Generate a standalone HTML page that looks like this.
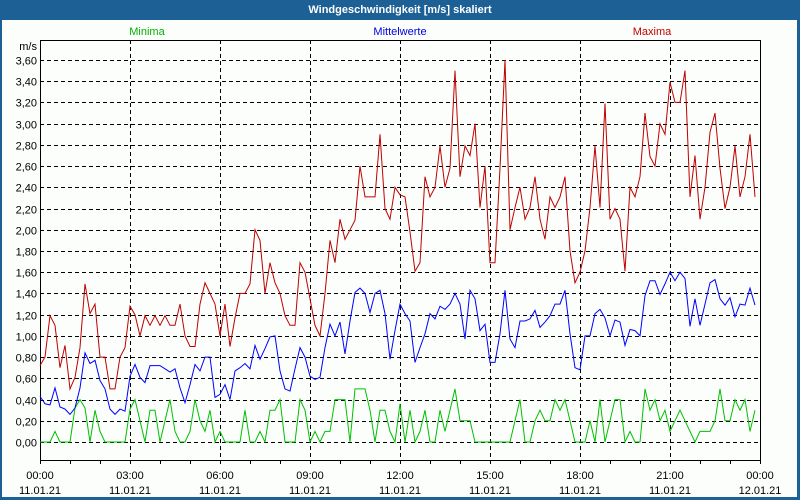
<!DOCTYPE html>
<html><head><meta charset="utf-8">
<style>
html,body{margin:0;padding:0;}
body{width:800px;height:500px;overflow:hidden;background:#1c6096;font-family:"Liberation Sans",sans-serif;}
#win{position:absolute;left:2px;top:20px;width:795px;height:477px;background:#fbfefb;}
#title{position:absolute;left:0;top:0;width:800px;height:20px;line-height:20px;text-align:center;color:#fff;font-weight:bold;font-size:11px;}
svg{position:absolute;left:0;top:0;}
</style></head>
<body>
<div id="title">Windgeschwindigkeit [m/s] skaliert</div>
<div id="win"></div>
<svg id="chart" width="800" height="500"></svg>
<script>
const yTicks=[0,0.2,0.4,0.6,0.8,1.0,1.2,1.4,1.6,1.8,2.0,2.2,2.4,2.6,2.8,3.0,3.2,3.4,3.6];
const xTimeLabels=["00:00","03:00","06:00","09:00","12:00","15:00","18:00","21:00","00:00"];
const xDateLabels=["11.01.21","11.01.21","11.01.21","11.01.21","11.01.21","11.01.21","11.01.21","11.01.21","12.01.21"];
const maxima=[0.72,0.8,1.19,1.1,0.7,0.91,0.5,0.61,0.89,1.49,1.21,1.3,0.8,0.8,0.5,0.5,0.8,0.89,1.28,1.2,1.0,1.19,1.1,1.19,1.1,1.19,1.1,1.1,1.3,1.0,0.9,0.9,1.3,1.5,1.4,1.3,1.0,1.3,0.9,1.17,1.4,1.4,1.49,2.0,1.9,1.4,1.69,1.5,1.4,1.19,1.1,1.1,1.69,1.6,1.35,1.1,1.0,1.4,1.9,1.69,2.1,1.91,2.0,2.09,2.6,2.31,2.31,2.31,2.9,2.2,2.1,2.4,2.33,2.31,1.98,1.61,1.69,2.5,2.31,2.4,2.79,2.4,2.58,3.5,2.5,2.79,2.7,3.0,2.21,2.6,1.69,1.69,2.58,3.6,2.0,2.21,2.4,2.1,2.21,2.5,2.1,1.91,2.31,2.21,2.31,2.5,1.8,1.5,1.6,1.8,2.21,2.79,2.21,3.19,2.1,2.2,2.1,1.61,2.4,2.31,2.5,3.1,2.69,2.6,3.0,2.9,3.39,3.2,3.2,3.5,2.31,2.7,2.1,2.4,2.92,3.1,2.58,2.2,2.4,2.79,2.31,2.5,2.9,2.31];
const mittel=[0.43,0.36,0.35,0.51,0.33,0.31,0.26,0.32,0.51,0.84,0.74,0.77,0.58,0.5,0.31,0.26,0.31,0.29,0.62,0.73,0.61,0.56,0.72,0.72,0.72,0.69,0.66,0.69,0.51,0.37,0.54,0.73,0.67,0.8,0.8,0.42,0.45,0.54,0.4,0.67,0.7,0.74,0.69,0.91,0.78,0.88,0.99,1.0,0.67,0.5,0.48,0.69,0.89,0.8,0.62,0.59,0.61,0.89,1.11,1.0,1.13,0.83,1.14,1.41,1.45,1.4,1.22,1.4,1.43,1.21,0.78,1.05,1.3,1.21,1.14,0.75,0.89,1.02,1.21,1.16,1.28,1.25,1.3,1.4,1.3,0.97,1.43,1.35,1.05,1.11,0.75,0.75,1.02,1.43,0.97,0.89,1.14,1.14,1.16,1.24,1.08,1.13,1.19,1.3,1.3,1.43,1.02,0.7,0.68,1.0,1.0,1.21,1.25,1.17,1.0,1.15,1.13,0.91,1.06,1.05,1.0,1.38,1.52,1.52,1.39,1.49,1.6,1.52,1.6,1.54,1.09,1.35,1.1,1.3,1.5,1.53,1.35,1.29,1.36,1.18,1.3,1.29,1.45,1.29];
const minima=[0,0,0,0.1,0,0,0,0.32,0.4,0.32,0,0.3,0.1,0,0,0,0,0,0.31,0.4,0.2,0,0.3,0.3,0,0.2,0.4,0.1,0,0,0.1,0.4,0.2,0.1,0.3,0,0.1,0,0,0,0,0.3,0,0,0.1,0,0.3,0.3,0.4,0,0,0,0.4,0.3,0,0.1,0,0.1,0.1,0.4,0.4,0.4,0,0.5,0.5,0.5,0.3,0,0.3,0.3,0.1,0,0.36,0,0.3,0,0.1,0.3,0,0,0.3,0.1,0.3,0.5,0.2,0.2,0.2,0,0,0,0,0,0,0,0,0.2,0.4,0,0,0.2,0.3,0.2,0.2,0.4,0.3,0.4,0.2,0,0,0,0.2,0,0.4,0,0.2,0.4,0.4,0,0.1,0,0,0.5,0.3,0.4,0.2,0.3,0.1,0.2,0.3,0.2,0.1,0,0.1,0.1,0.1,0.2,0.5,0.2,0.2,0.4,0.3,0.4,0.1,0.3];

const NS="http://www.w3.org/2000/svg";
const svg=document.getElementById('chart');
const L=40,R=760,T=40,B=460;
const yScale=v=>442-v*(382/3.6);
const xScale=i=>L+i*5; // 10-minute steps, 5px each
const xHour=h=>L+h*30;
function mk(tag,attrs,parent){const e=document.createElementNS(NS,tag);for(const k in attrs)e.setAttribute(k,attrs[k]);(parent||svg).appendChild(e);return e;}

// grid
yTicks.forEach(v=>{
  const y=Math.round(yScale(v))+0.5;
  const g=mk('line',{x1:L,x2:R,y1:y,y2:y,stroke:'#000','stroke-width':1,'stroke-dasharray':'4,3'});
  
  
  const t=mk('text',{x:37,y:y+4,'text-anchor':'end','font-size':11,fill:'#000'});
  t.textContent=v.toFixed(2).replace('.',',');
  
  
});
for(let k=1;k<8;k++){
  const x=xHour(k*3)+0.5;
  const g=mk('line',{x1:x,x2:x,y1:T,y2:B,stroke:'#000','stroke-width':1,'stroke-dasharray':'4,3'});
  
  
}
for(let h=0;h<=24;h++){
  const x=xHour(h)+0.5;
  const tk=mk('line',{x1:x,x2:x,y1:B,y2:B+4,stroke:'#000'});
  
  
}
xTimeLabels.forEach((s,k)=>{
  const x=xHour(k*3);
  const t=mk('text',{x:x,y:479,'text-anchor':'middle','font-size':11,fill:'#000'});
  t.textContent=s;
  
  
  const d=mk('text',{x:x,y:494,'text-anchor':'middle','font-size':11,fill:'#000'});
  d.textContent=xDateLabels[k];
  
  
});
const frame=mk('rect',{x:L+0.5,y:T+0.5,width:R-L,height:B-T,fill:'none',stroke:'#000','stroke-width':1});


const unit=mk('text',{x:37,y:50,'text-anchor':'end','font-size':11,fill:'#000'});
unit.textContent='m/s';



function series(arr,color,name){
  const pts=arr.map((v,i)=>xScale(i)+','+yScale(v).toFixed(1)).join(' ');
  const p=mk('polyline',{points:pts,fill:'none',stroke:color,'stroke-width':1});
  
  
}
series(minima,'#00c000','minima-line');
series(mittel,'#0000ff','mittelwerte-line');
series(maxima,'#c00000','maxima-line');

[['Minima','#00b000',147],['Mittelwerte','#0000e0',400],['Maxima','#c00000',652]].forEach(([s,c,x])=>{
  const t=mk('text',{x:x,y:35,'text-anchor':'middle','font-size':11,fill:c});
  t.textContent=s;
  
  
});
</script>
</body></html>
